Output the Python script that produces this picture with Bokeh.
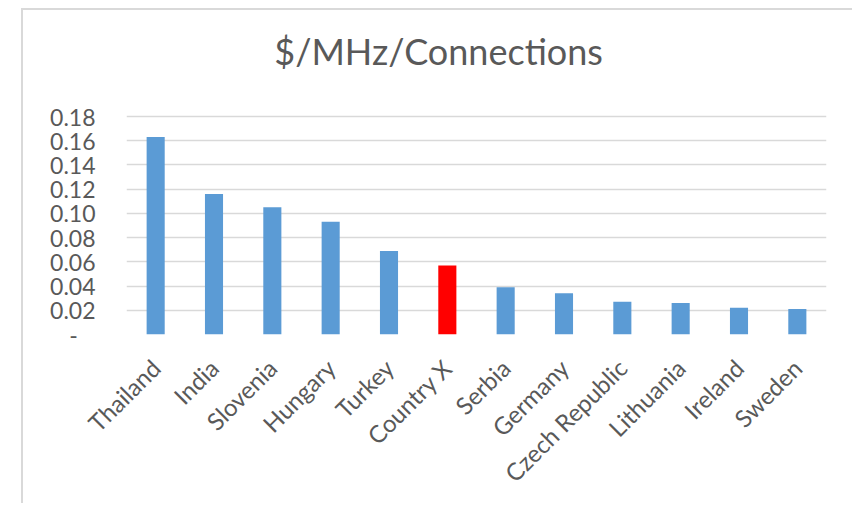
import math

from bokeh.embed import file_html
from bokeh.models import (ColumnDataSource, FactorRange, FixedTicker, Label,
                          NumeralTickFormatter, Range1d)
from bokeh.plotting import figure
from bokeh.resources import INLINE

# Cost per MHz per connection, by country
countries = ["Thailand", "India", "Slovenia", "Hungary", "Turkey", "Country X",
             "Serbia", "Germany", "Czech Republic", "Lithuania", "Ireland", "Sweden"]
cost = [0.163, 0.116, 0.105, 0.093, 0.069, 0.057,
        0.039, 0.034, 0.027, 0.026, 0.022, 0.021]
highlight = "Country X"
y_ticks = [0.00, 0.02, 0.04, 0.06, 0.08, 0.10, 0.12, 0.14, 0.16, 0.18]

BLUE = "#5B9BD5"
RED = "#FF0000"
GREY_TEXT = "#595959"
GRID = "#D9D9D9"
FONT = "Lato"

src = ColumnDataSource(dict(
    country=countries,
    cost=cost,
    color=[RED if c == highlight else BLUE for c in countries],
))

# The frame reaches the top of the chart; the axis stops at 0.18 and the
# space above it (324 px frame vs. 218 px for the scale) holds the title.
FRAME_H = 324
SCALE_H = 218
y_max = y_ticks[-1]
y_top = y_max * FRAME_H / SCALE_H

p = figure(
    x_range=FactorRange(*countries, range_padding=0),
    y_range=Range1d(0, y_top),
    width=831, height=495,
    output_backend="svg", toolbar_location=None,
    min_border_left=103, min_border_right=28,
    min_border_top=0, min_border_bottom=171,
    margin=(8, 0, 0, 21),
)
p.styles = {"border-top": "2px solid #D9D9D9", "border-left": "2px solid #D9D9D9"}

p.vbar(x="country", top="cost", width=0.31, color="color", line_color=None, source=src)

# chart title, centred over the whole chart area
p.add_layout(Label(x=5.35, y=y_max + (y_max / SCALE_H) * 66,
                   text="$/MHz/Connections",
                   text_align="center", text_baseline="alphabetic",
                   text_font=FONT, text_font_size="36px",
                   text_color=GREY_TEXT))

p.outline_line_color = None
p.background_fill_color = "white"
p.border_fill_color = "white"

p.xgrid.grid_line_color = None
p.ygrid.grid_line_color = GRID
p.ygrid.grid_line_width = 1.5

for ax in (p.xaxis[0], p.yaxis[0]):
    ax.axis_line_color = None
    ax.major_tick_line_color = None
    ax.minor_tick_line_color = None
    ax.major_tick_out = 0
    ax.major_tick_in = 0
    ax.major_label_text_font = FONT
    ax.major_label_text_color = GREY_TEXT

p.yaxis.ticker = FixedTicker(ticks=y_ticks)
p.yaxis.formatter = NumeralTickFormatter(format="0.00")
p.yaxis.major_label_overrides = {0: "-\u00a0\u00a0\u00a0"}
p.yaxis.major_label_standoff = 31
p.yaxis.major_label_text_font_size = "23px"

p.xaxis.major_label_orientation = math.pi / 4
p.xaxis.major_label_standoff = 29
p.xaxis.major_label_text_font_size = "24px"

open("out.html", "w").write(file_html(p, INLINE))
